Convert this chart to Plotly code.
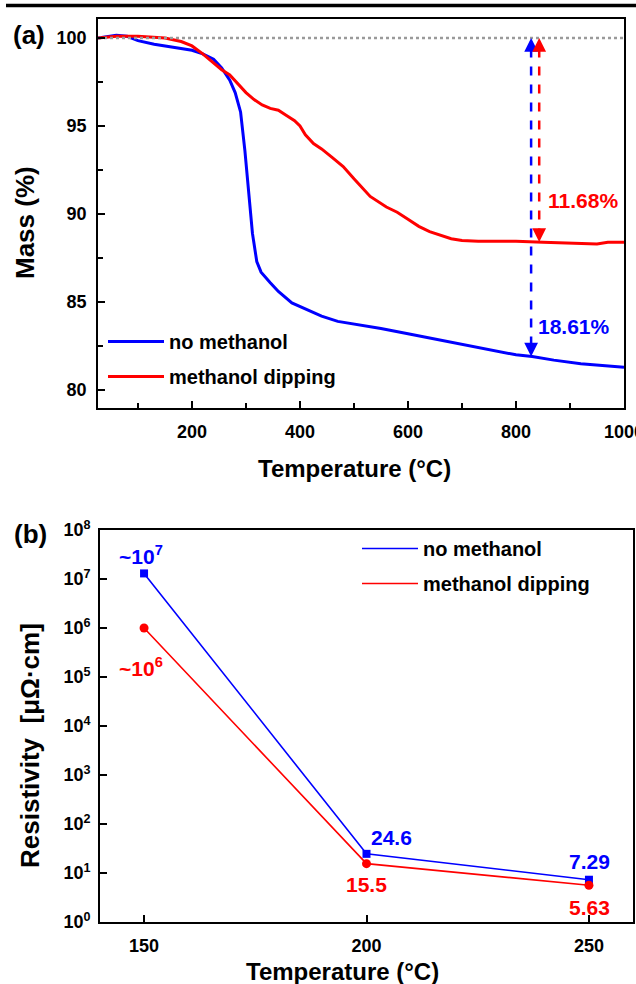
import numpy as np
import plotly.graph_objects as go

# ---------------- data: panel (a) TGA ----------------
temp_no_methanol = [26, 60, 80, 100, 130, 160, 200, 220, 240, 255, 270, 280, 290, 298, 305, 312,
                    320, 328, 345, 360, 385, 410, 440, 470, 500, 550, 600, 650, 700, 750, 800,
                    830, 870, 920, 960, 1000]
mass_no_methanol = [100.0, 100.15, 100.1, 99.85, 99.65, 99.5, 99.3, 99.1, 98.8, 98.3, 97.6, 96.9,
                    95.8, 93.6, 91.0, 88.9, 87.3, 86.7, 86.1, 85.6, 84.95, 84.6, 84.2, 83.9,
                    83.75, 83.5, 83.2, 82.9, 82.6, 82.3, 82.0, 81.9, 81.7, 81.5, 81.4, 81.3]

temp_methanol_dip = [26, 60, 100, 150, 180, 200, 220, 240, 255, 270, 285, 300, 315, 330, 345, 360,
                     375, 390, 400, 410, 425, 440, 460, 480, 500, 530, 560, 580, 600, 620, 640,
                     660, 680, 700, 730, 760, 800, 850, 900, 950, 970, 1000]
mass_methanol_dip = [100.0, 100.1, 100.1, 100.0, 99.8, 99.55, 99.1, 98.6, 98.2, 97.9, 97.4, 96.9,
                     96.5, 96.2, 96.0, 95.9, 95.6, 95.3, 95.0, 94.5, 94.0, 93.7, 93.2, 92.7,
                     92.0, 91.0, 90.4, 90.1, 89.7, 89.3, 89.0, 88.8, 88.6, 88.5, 88.45, 88.45,
                     88.45, 88.4, 88.35, 88.3, 88.4, 88.4]

series_names = ["no methanol", "methanol dipping"]
loss_labels = ["18.61%", "11.68%"]
arrow_temps = [828, 843]
ref_mass = 100

x_ticks_a = [200, 400, 600, 800, 1000]
y_ticks_a = [80, 85, 90, 95, 100]

# ---------------- data: panel (b) resistivity ----------------
temp_b = [150, 200, 250]
res_no_methanol = [1.3e7, 24.6, 7.29]
res_methanol_dip = [1.0e6, 15.5, 5.63]
labels_no_methanol = ["~10<sup>7</sup>", "24.6", "7.29"]
labels_methanol_dip = ["~10<sup>6</sup>", "15.5", "5.63"]
x_ticks_b = [150, 200, 250]
y_tickvals_b = [1, 10, 100, 1e3, 1e4, 1e5, 1e6, 1e7, 1e8]
y_ticktext_b = ["10<sup>%d</sup>" % i for i in range(9)]

# ---------------- styling ----------------
W, H = 636, 984
BLUE = "#0000FF"
RED = "#FF0000"
FONT = "Liberation Sans, Arial, sans-serif"

def px(x):
    return x / W

def py(y):
    return 1 - y / H

fig = go.Figure()

# panel (a) curves
fig.add_trace(go.Scatter(x=temp_no_methanol, y=mass_no_methanol, mode="lines",
                         line=dict(color=BLUE, width=3), name=series_names[0],
                         legend="legend", legendgroup="a1", xaxis="x", yaxis="y"))
fig.add_trace(go.Scatter(x=temp_methanol_dip, y=mass_methanol_dip, mode="lines",
                         line=dict(color=RED, width=3), name=series_names[1],
                         legend="legend", legendgroup="a2", xaxis="x", yaxis="y"))

# reference dotted line at 100 %
fig.add_trace(go.Scatter(x=[26, 1000], y=[ref_mass, ref_mass], mode="lines",
                         line=dict(color="#9a9a9a", width=2.5, dash="dot"),
                         showlegend=False, hoverinfo="skip", xaxis="x", yaxis="y"))

# dashed arrows
ann = []
for temps, masses, col, tx, lab, lab_y, xs in [
        (temp_no_methanol, mass_no_methanol, BLUE, arrow_temps[0], loss_labels[0], 83.6, 5),
        (temp_methanol_dip, mass_methanol_dip, RED, arrow_temps[1], loss_labels[1], 90.75, 7)]:
    end = float(np.interp(tx, temps, masses))
    fig.add_trace(go.Scatter(x=[tx, tx], y=[ref_mass - 0.6, end + 0.6], mode="lines",
                             line=dict(color=col, width=2.5, dash="dash"),
                             showlegend=False, hoverinfo="skip", xaxis="x", yaxis="y"))
    ann.append(dict(x=tx, y=ref_mass, xref="x", yref="y", ax=0, ay=14, axref="pixel",
                    ayref="pixel", text="", showarrow=True, arrowhead=2, arrowsize=1.1,
                    arrowwidth=2.5, arrowcolor=col))
    ann.append(dict(x=tx, y=end, xref="x", yref="y", ax=0, ay=-14, text="", showarrow=True,
                    arrowhead=2, arrowsize=1.1, arrowwidth=2.5, arrowcolor=col))
    ann.append(dict(x=tx, y=lab_y, xref="x", yref="y", text=lab, showarrow=False,
                    xanchor="left", yanchor="middle", xshift=xs,
                    font=dict(family=FONT, size=21, color=col, weight="bold")))

# panel (b)
fig.add_trace(go.Scatter(x=temp_b, y=res_no_methanol, mode="lines",
                         line=dict(color=BLUE, width=1.6), name=series_names[0],
                         legend="legend2", legendgroup="b1", xaxis="x2", yaxis="y2"))
fig.add_trace(go.Scatter(x=temp_b, y=res_methanol_dip, mode="lines",
                         line=dict(color=RED, width=1.6), name=series_names[1],
                         legend="legend2", legendgroup="b2", xaxis="x2", yaxis="y2"))
fig.add_trace(go.Scatter(x=temp_b, y=res_no_methanol, mode="markers",
                         marker=dict(color=BLUE, symbol="square", size=8),
                         showlegend=False, xaxis="x2", yaxis="y2"))
fig.add_trace(go.Scatter(x=temp_b, y=res_methanol_dip, mode="markers",
                         marker=dict(color=RED, symbol="circle", size=9),
                         showlegend=False, xaxis="x2", yaxis="y2"))

blue_shifts = [(-3, 18), (25, 16), (1, 18)]
red_shifts = [(-3, -39), (0, -21), (1, -22)]
for xv, yv, lab, (dx, dy) in zip(temp_b, res_no_methanol, labels_no_methanol, blue_shifts):
    ann.append(dict(x=xv, y=np.log10(yv), xref="x2", yref="y2", text=lab, showarrow=False,
                    xshift=dx, yshift=dy, xanchor="center", yanchor="middle",
                    font=dict(family=FONT, size=21, color=BLUE, weight="bold")))
for xv, yv, lab, (dx, dy) in zip(temp_b, res_methanol_dip, labels_methanol_dip, red_shifts):
    ann.append(dict(x=xv, y=np.log10(yv), xref="x2", yref="y2", text=lab, showarrow=False,
                    xshift=dx, yshift=dy, xanchor="center", yanchor="middle",
                    font=dict(family=FONT, size=21, color=RED, weight="bold")))

# titles / panel labels
def txt(text, x, y, size, angle=0):
    return dict(text=text, x=px(x), y=py(y), xref="paper", yref="paper", showarrow=False,
                xanchor="center", yanchor="middle", textangle=angle,
                font=dict(family=FONT, size=size, color="black", weight="bold"))

ann += [
    txt("(a)", 29, 35, 26),
    txt("(b)", 30, 534, 26),
    txt("Mass (%)", 25, 223, 26, -90),
    txt("Temperature (°C)", 354, 468, 24),
    txt("Resistivity&nbsp; [μΩ·cm]", 30, 746, 26, -90),
    txt("Temperature (°C)", 342, 971, 24),
]

axis_common = dict(showline=True, linecolor="black", linewidth=1.8, mirror=True,
                   ticks="inside", tickcolor="black", tickwidth=1.6, showgrid=False,
                   zeroline=False, automargin=False, ticklabeloverflow="allow",
                   tickfont=dict(family=FONT, size=18, color="black", weight="bold"))

fig.update_layout(
    width=W, height=H, margin=dict(l=0, r=0, t=0, b=0, pad=0, autoexpand=False),
    paper_bgcolor="white", plot_bgcolor="white",
    showlegend=True,
    xaxis=dict(domain=[px(98), px(624)], range=[26, 1000], tickvals=x_ticks_a, ticklen=7,
               ticklabelstandoff=6, anchor="y",
               minor=dict(ticks="inside", dtick=100, tick0=0, ticklen=5, tickwidth=1.6,
                          tickcolor="black", showgrid=False),
               **axis_common),
    yaxis=dict(domain=[py(408), py(19)], range=[78.98, 101.08], tickvals=y_ticks_a, ticklen=7,
               ticklabelstandoff=6, anchor="x",
               minor=dict(ticks="inside", dtick=2.5, tick0=0, ticklen=5, tickwidth=1.6,
                          tickcolor="black", showgrid=False),
               **axis_common),
    xaxis2=dict(domain=[px(100), px(633)], range=[140.1, 259.9], tickvals=x_ticks_b,
                ticklen=7, ticklabelstandoff=6, anchor="y2", **axis_common),
    yaxis2=dict(domain=[py(922), py(530)], type="log", range=[0, 8], tickvals=y_tickvals_b,
                ticktext=y_ticktext_b, ticklen=7, ticklabelstandoff=4, anchor="x2",
                **axis_common),
    legend=dict(x=px(103), y=py(322), xanchor="left", yanchor="top", bgcolor="rgba(0,0,0,0)",
                font=dict(family=FONT, size=20, color="black", weight="bold"),
                tracegroupgap=6, itemwidth=56, traceorder="grouped"),
    legend2=dict(x=px(357), y=py(529), xanchor="left", yanchor="top", bgcolor="rgba(0,0,0,0)",
                 font=dict(family=FONT, size=20, color="black", weight="bold"),
                 tracegroupgap=6, itemwidth=56, traceorder="grouped"),
    annotations=ann,
    shapes=[dict(type="line", xref="paper", yref="paper", x0=px(6), x1=1, y0=py(5.5),
                 y1=py(5.5), line=dict(color="black", width=3.5))],
)

fig.write_html("out.html", config={"displayModeBar": False},
               post_script="document.body.style.margin='0';document.body.style.overflow='hidden';")
